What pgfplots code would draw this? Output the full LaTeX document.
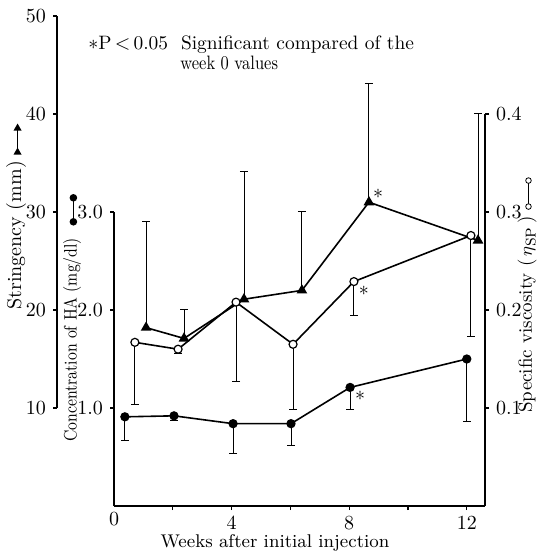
\documentclass[border=0pt]{standalone}
\usepackage{graphicx}
\usepackage{pgfplots}
\pgfplotsset{compat=1.18}

% small keys that sit at the end of the axis titles
\newcommand{\trikey}{\tikz[baseline=-0.4ex]{\draw[line width=0.5pt](0,0)--(12pt,0);
  \fill(-1.5pt,-2pt)--(2pt,0)--(-1.5pt,2pt)--cycle;
  \fill(10.5pt,-2pt)--(14pt,0)--(10.5pt,2pt)--cycle;}}
\newcommand{\dotkey}{\tikz[baseline=-0.4ex]{\draw[line width=0.6pt](0,0)--(12pt,0);
  \fill(0,0) circle (1.9pt);\fill(12pt,0) circle (1.9pt);}}
\newcommand{\ringkey}{\tikz[baseline=-0.4ex]{\draw[line width=0.4pt](0,0)--(13pt,0);
  \draw[fill=white,line width=0.4pt](0,0) circle (1.4pt);\draw[fill=white,line width=0.4pt](13pt,0) circle (1.4pt);}}

\pgfplotsset{
  common/.style={
    x=14.7pt, clip=false,
    axis line style={line width=1.1pt},
    tick style={line width=0.6pt,black},
    tick align=outside,
    major tick length=2pt, minor tick length=2pt,
    every axis plot/.append style={line width=0.8pt,black},
    error bars/error bar style={line width=0.45pt,black},
    error bars/error mark options={rotate=90,line width=0.45pt,black,mark size=2pt},
  },
}

\begin{document}
\begin{tikzpicture}
\useasboundingbox (0pt,0pt) rectangle (268.5pt,277.5pt);

% concentration of HA, and the weeks axis
\begin{axis}[common,
  at={(57pt,24.5pt)}, anchor=south west,
  y=49pt, xmin=0, xmax=12.62, ymin=0, ymax=3,
  axis x line*=bottom, axis y line*=left,
  xtick={4,8,12}, minor xtick={2,6,10},
  extra x ticks={0}, extra x tick style={major tick length=0pt},
  ytick={1,2,3},
  yticklabel style={/pgf/number format/.cd,fixed,fixed zerofill,precision=1},
]
\addplot[mark=*, mark size=1.9pt,
  error bars/.cd, y dir=minus, y explicit]
  coordinates {
  (0.37,0.91) -= (0,0.24)
  (2.04,0.92) -= (0,0.05)
  (4.05,0.84) -= (0,0.30)
  (6.02,0.84) -= (0,0.22)
  (8.03,1.21) -= (0,0.22)
  (12.0,1.50) -= (0,0.64)
  };
\node at (axis cs:8.37,1.12) {$\ast$};
\end{axis}

% stringency
\begin{axis}[common,
  at={(28.5pt,73.5pt)}, anchor=south west,
  y=4.9pt, xmin=-1.94, xmax=12.62, ymin=10, ymax=50,
  axis y line*=left, axis x line=none,
  ytick={10,20,30,40,50},
]
\addplot[mark=triangle*, mark size=2.3pt,
  error bars/.cd, y dir=plus, y explicit]
  coordinates {
  (1.09,18.2) += (0,10.8)
  (2.38,17.1) += (0,3.0)
  (4.42,21.1) += (0,13.0)
  (6.39,22.0) += (0,8.1)
  (8.67,31.0) += (0,12.1)
  (12.38,27.1) += (0,13.0)
  };
\node at (axis cs:8.98,31.9) {$\ast$};
\end{axis}

% specific viscosity
\begin{axis}[common,
  at={(57pt,24.5pt)}, anchor=south west,
  y=490pt, xmin=0, xmax=12.62, ymin=0, ymax=0.4,
  axis y line*=right, axis x line=none,
  ytick={0.1,0.2,0.3,0.4},
  yticklabel style={/pgf/number format/.cd,fixed,fixed zerofill,precision=1},
]
\addplot[mark=*, mark size=2pt, mark options={fill=white,line width=0.6pt},
  error bars/.cd, y dir=minus, y explicit]
  coordinates {
  (0.71,0.167) -= (0,0.063)
  (2.18,0.160) -= (0,0.004)
  (4.15,0.208) -= (0,0.081)
  (6.09,0.165) -= (0,0.066)
  (8.16,0.229) -= (0,0.035)
  (12.14,0.276) -= (0,0.103)
  };
\node at (axis cs:8.5,0.220) {$\ast$};
\end{axis}

% titles
\node[anchor=base west,inner sep=0pt,font=\fontsize{9.7}{11}\selectfont] at (44pt,252.5pt) {$\ast$P\,$<$\,0.05 \ Significant compared of the};
\node[anchor=base west,inner sep=0pt,font=\fontsize{9.7}{11}\selectfont] at (90pt,242.5pt) {\scalebox{0.85}[1]{week 0 values}};
\node[anchor=base,inner sep=0pt,font=\fontsize{9.2}{10}\selectfont] at (137.5pt,3.5pt) {Weeks after initial injection};
\node[rotate=90,anchor=west,inner sep=0pt] at (8pt,122.5pt) {Stringency (mm)\ \trikey};
\node[rotate=90,anchor=west,inner sep=0pt,font=\fontsize{9}{10}\selectfont] at (36pt,56.5pt) {\scalebox{0.85}[1]{Concentration of HA (mg/dl)}\ \ \dotkey};
\node[rotate=90,anchor=west,inner sep=0pt,font=\fontsize{9.5}{10}\selectfont] at (263.5pt,71pt) {Specific viscosity (\,$\eta_{\textsc{sp}}$\,)\ \ringkey};
\end{tikzpicture}
\end{document}
